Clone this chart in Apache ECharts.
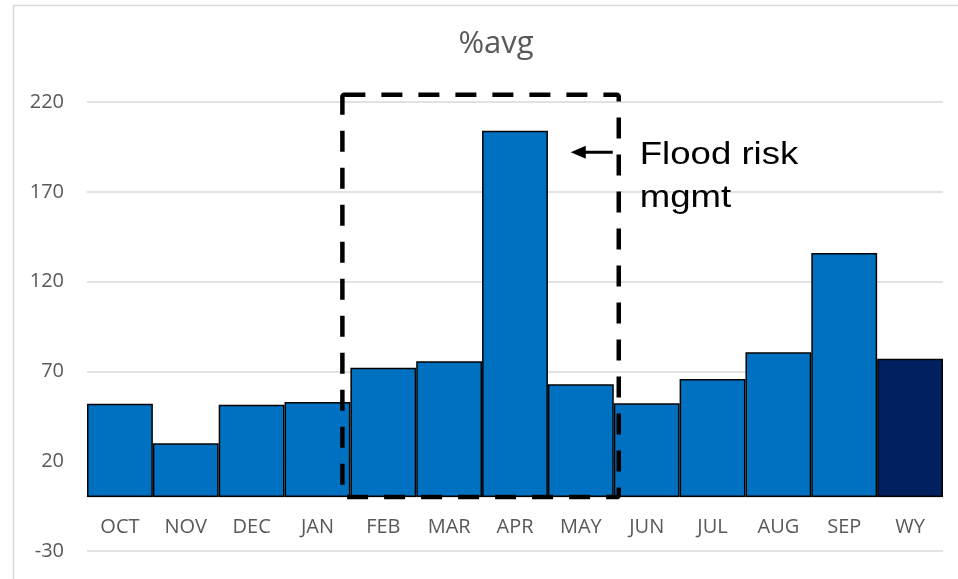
<!DOCTYPE html>
<html>
<head>
<meta charset="utf-8">
<script src="https://cdn.jsdelivr.net/npm/echarts@6/dist/echarts.min.js"></script>
<style>
html,body{margin:0;padding:0;background:#fff;}
#c{width:958px;height:579px;}
</style>
</head>
<body>
<div id="c"></div>
<script>
const categories = ['OCT','NOV','DEC','JAN','FEB','MAR','APR','MAY','JUN','JUL','AUG','SEP','WY'];
const pctAvg = [52, 30, 51.5, 53, 72, 75.7, 204, 62.8, 52.2, 65.7, 80.6, 135.9, 77];
const barColors = ['#0070C0','#0070C0','#0070C0','#0070C0','#0070C0','#0070C0','#0070C0','#0070C0','#0070C0','#0070C0','#0070C0','#0070C0','#002060'];
const yTicks = [-30, 20, 70, 120, 170, 220];
const titleText = '%avg';
const boxStart = 'FEB';
const boxEnd = 'MAY';
const boxTop = 224;
const arrowValue = 192;
const noteLines = ['Flood risk', 'mgmt'];

const chart = echarts.init(document.getElementById('c'), null, {renderer: 'canvas'});

const option = {
  animation: false,
  backgroundColor: '#fff',
  title: {
    text: titleText,
    left: 491,
    top: 24,
    textAlign: 'center',
    textStyle: {fontFamily: 'Open Sans', fontSize: 31, fontWeight: 'normal', color: '#595959'}
  },
  grid: {left: 87, right: 15, top: 102, bottom: 28, containLabel: false, outerBoundsMode: 'none'},
  xAxis: {
    type: 'category',
    data: categories,
    boundaryGap: true,
    axisLine: {show: true, onZero: true, lineStyle: {color: '#d9d9d9', width: 1.5}},
    axisTick: {show: false},
    axisLabel: {fontFamily: 'Open Sans', fontSize: 20, color: '#595959', margin: 18},
    splitLine: {show: false}
  },
  yAxis: {
    type: 'value',
    min: yTicks[0],
    max: yTicks[yTicks.length - 1],
    interval: yTicks[1] - yTicks[0],
    axisLine: {show: false},
    axisTick: {show: false},
    axisLabel: {fontFamily: 'Open Sans', fontSize: 20, color: '#595959', margin: 23},
    splitLine: {show: true, lineStyle: {color: '#d9d9d9', width: 1.5}}
  },
  series: [{
    type: 'bar',
    data: pctAvg.map((v, i) => ({value: v, itemStyle: {color: barColors[i]}})),
    barCategoryGap: '0%',
    itemStyle: {borderColor: '#000', borderWidth: 1.5},
    emphasis: {disabled: true}
  }]
};
chart.setOption(option);

function placeLabelsAtZero() {
  const yp = (v) => chart.convertToPixel({yAxisIndex: 0}, v);
  const gap = yp(yTicks[0]) - yp(0);
  chart.setOption({xAxis: {axisLabel: {margin: 20 - gap}}});
}
placeLabelsAtZero();

function drawAnnotations() {
  const xp = (c) => chart.convertToPixel({xAxisIndex: 0}, c);
  const yp = (v) => chart.convertToPixel({yAxisIndex: 0}, v);
  const step = xp(categories[1]) - xp(categories[0]);
  const left = xp(boxStart) - step / 2 - 8;
  const right = xp(boxEnd) + step / 2 + 5;
  const top = yp(boxTop);
  const bottom = yp(0);
  const ay = yp(arrowValue);
  const tipX = right - 48;
  chart.setOption({
    graphic: [
      {type: 'rect', left: 11, top: 3, silent: true, z: 0,
        shape: {x: 0, y: 0, width: 1100, height: 700},
        style: {fill: 'none', stroke: '#d9d9d9', lineWidth: 1.5}},
      {type: 'rect', z: 100, silent: true,
        shape: {x: left, y: top, width: right - left, height: bottom - top, r: 2},
        style: {fill: 'none', stroke: '#000', lineWidth: 4.5, lineDash: [21, 16]}},
      {type: 'line', z: 100, silent: true,
        shape: {x1: right - 6, y1: ay, x2: tipX + 10, y2: ay},
        style: {stroke: '#000', lineWidth: 3}},
      {type: 'polygon', z: 100, silent: true,
        shape: {points: [[tipX, ay], [tipX + 15, ay - 6.5], [tipX + 15, ay + 6.5]]},
        style: {fill: '#000'}},
      {type: 'text', z: 100, silent: true, x: right + 21, y: ay + 3, scaleX: 1.18,
        style: {text: noteLines[0], fontFamily: 'Liberation Sans', fontSize: 31, fill: '#000', verticalAlign: 'middle', align: 'left'}},
      {type: 'text', z: 100, silent: true, x: right + 21, y: ay + 46, scaleX: 1.18,
        style: {text: noteLines[1], fontFamily: 'Liberation Sans', fontSize: 31, fill: '#000', verticalAlign: 'middle', align: 'left'}}
    ]
  });
}
drawAnnotations();
</script>
</body>
</html>
